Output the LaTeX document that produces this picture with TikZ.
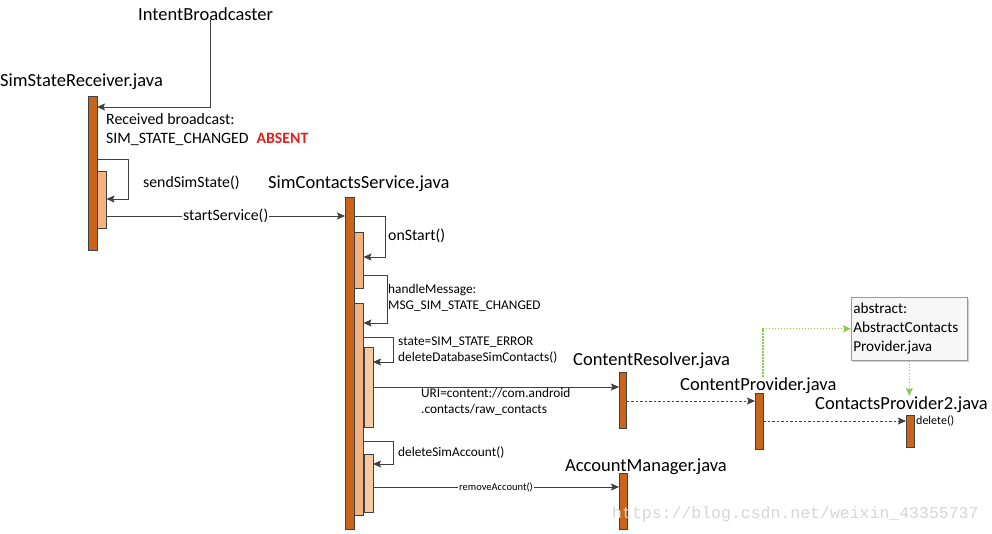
\documentclass[tikz,border=0pt]{standalone}
\usepackage{fontspec}
\setmainfont{Carlito}
\newfontfamily\wmfont{Liberation Mono}
\usetikzlibrary{arrows.meta,calc,shadows}
\definecolor{barc}{HTML}{C8651B}
\definecolor{actc}{HTML}{F2B382}
\definecolor{actl}{HTML}{F6C9A4}
\definecolor{linec}{HTML}{404040}
\definecolor{grn}{HTML}{8CCB4A}
\definecolor{absred}{HTML}{E0201E}
\tikzset{
  barbase/.style={draw=linec, line width=0.6pt, inner sep=0pt, outer sep=0pt, anchor=north west},
  mainbar/.style={barbase, fill=barc, minimum width=9pt},
  actbar/.style={barbase, fill=actc, minimum width=9.5pt},
  actbarl/.style={barbase, fill=actl, minimum width=9pt},
  title/.style={inner sep=0pt, anchor=base west, font=\fontsize{18.5}{22}\selectfont},
  lbl/.style={inner sep=0pt, anchor=base west, font=\fontsize{15.8}{19}\selectfont},
  slbl/.style={inner sep=0pt, anchor=base west, font=\fontsize{13.3}{16}\selectfont},
  arr/.style={draw=linec, line width=0.8pt, -{Stealth[length=8pt,width=7pt,inset=1.5pt]}},
  darr/.style={arr, dash pattern=on 2.5pt off 2pt},
  garr/.style={draw=grn, line width=1.1pt, dash pattern=on 1.5pt off 1.5pt, -{Stealth[length=8pt,width=7pt,inset=1.5pt]}},
}
\begin{document}
\begin{tikzpicture}[x=1pt,y=-1pt]
\useasboundingbox (0,0) rectangle (992,533);
% titles
\node[title] (ibt) at (138,20) {IntentBroadcaster};
\node[title] (rt) at (0,86) {SimStateReceiver.java};
\node[title] (st) at (268,188) {SimContactsService.java};
\node[title] (crt) at (573,365) {ContentResolver.java};
\node[title] (cpt) at (680,390) {ContentProvider.java};
\node[title] (cp2t) at (815,409) {ContactsProvider2.java};
\node[title] (amt) at (565,471) {AccountManager.java};
% bars
\node[mainbar, minimum height=154pt] (rm) at (88,96) {};
\node[actbar, minimum height=57pt] (ra) at (97,171) {};
\node[mainbar, minimum height=332pt] (sm) at (345,197) {};
\node[actbar, minimum height=56pt] (sa1) at (354,232) {};
\node[actbar, minimum height=212pt] (sa2) at (354,303) {};
\node[actbarl, minimum height=80pt] (sa3) at (364,347) {};
\node[actbarl, minimum height=58pt] (sa4) at (364,454) {};
\node[mainbar, minimum width=7.5pt, minimum height=56pt] (cr) at (619,372) {};
\node[mainbar, minimum width=8pt, minimum height=56pt] (cp) at (755,393) {};
\node[mainbar, minimum width=8pt, minimum height=32pt] (cp2) at (906,415) {};
\node[mainbar, minimum width=8pt, minimum height=56pt] (am) at (619,473) {};
% abstract box
\node[draw=gray!80, fill=black!3, line width=0.6pt, drop shadow={shadow xshift=2pt, shadow yshift=-2pt, fill=black!35},
  anchor=north west, minimum width=116pt, minimum height=63pt, inner sep=2pt,
  text width=112pt, align=left, font=\fontsize{15.2}{19}\selectfont] (abs) at (851,297)
  {abstract:\\AbstractContacts\\Provider.java};
% labels
\node[lbl] (rb1) at (106,124) {Received broadcast:};
\node[lbl] (rb2) at (106,143) {SIM\_STATE\_CHANGED\enspace\textcolor{absred}{\bfseries ABSENT}};
\node[lbl] (sss) at (143,187) {sendSimState()};
\node[lbl] (ons) at (388,240) {onStart()};
\node[slbl] (hm1) at (388,293) {handleMessage:};
\node[slbl] (hm2) at (388,309) {MSG\_SIM\_STATE\_CHANGED};
\node[slbl] (se1) at (398,345) {state=SIM\_STATE\_ERROR};
\node[slbl] (se2) at (398,361) {deleteDatabaseSimContacts()};
\node[slbl] (uri1) at (421,397) {URI=content://com.android};
\node[slbl] (uri2) at (421,413) {.contacts/raw\_contacts};
\node[slbl] (dsa) at (398,456) {deleteSimAccount()};
\node[inner sep=0pt, anchor=base west, font=\fontsize{12}{14}\selectfont] (del) at (916,424) {delete()};
% connectors
\draw[arr] ([xshift=5pt]ibt.south) |- (rm.east |- 0,107);
\draw[arr] (rm.east |- 0,159) -- (128,159) -- (128,199) -- (ra.east |- 0,199);
\draw[arr] (ra.east |- 0,216) -- node[fill=white, inner sep=1pt, font=\fontsize{15.8}{19}\selectfont] (ssv) {startService()} (sm.west |- 0,216);
\draw[arr] (sm.east |- 0,216) -- (385,216) -- (385,257) -- (sa1.east |- 0,257);
\draw[arr] (sa1.east |- 0,275) -- (387,275) -- (387,323) -- (sa2.east |- 0,323);
\draw[arr] (sa2.east |- 0,337) -- (393,337) -- (393,362) -- (sa3.east |- 0,362);
\draw[arr] (sa3.east |- 0,387) -- (cr.west |- 0,387);
\draw[darr] (cr.east |- 0,401) -- (cp.west |- 0,401);
\draw[darr] (cp.east |- 0,421) -- (cp2.west |- 0,421);
\draw[arr] (sa2.east |- 0,441) -- (393,441) -- (393,464) -- (sa4.east |- 0,464);
\draw[arr] (sa4.east |- 0,487) -- node[fill=white, inner sep=1pt, font=\fontsize{10.5}{12}\selectfont] (ra2) {removeAccount()} (am.west |- 0,487);
\draw[garr] (cpt.north -| cp.east) |- (abs.west);
\draw[garr] (abs.south) -- (abs.south |- cp2t.north);
% watermark
\node[inner sep=0pt, anchor=base west, text=black!16, font=\wmfont\fontsize{16.5}{18}\selectfont] (wm) at (612,518) {https://blog.csdn.net/weixin\_43355737};
\end{tikzpicture}
\end{document}
